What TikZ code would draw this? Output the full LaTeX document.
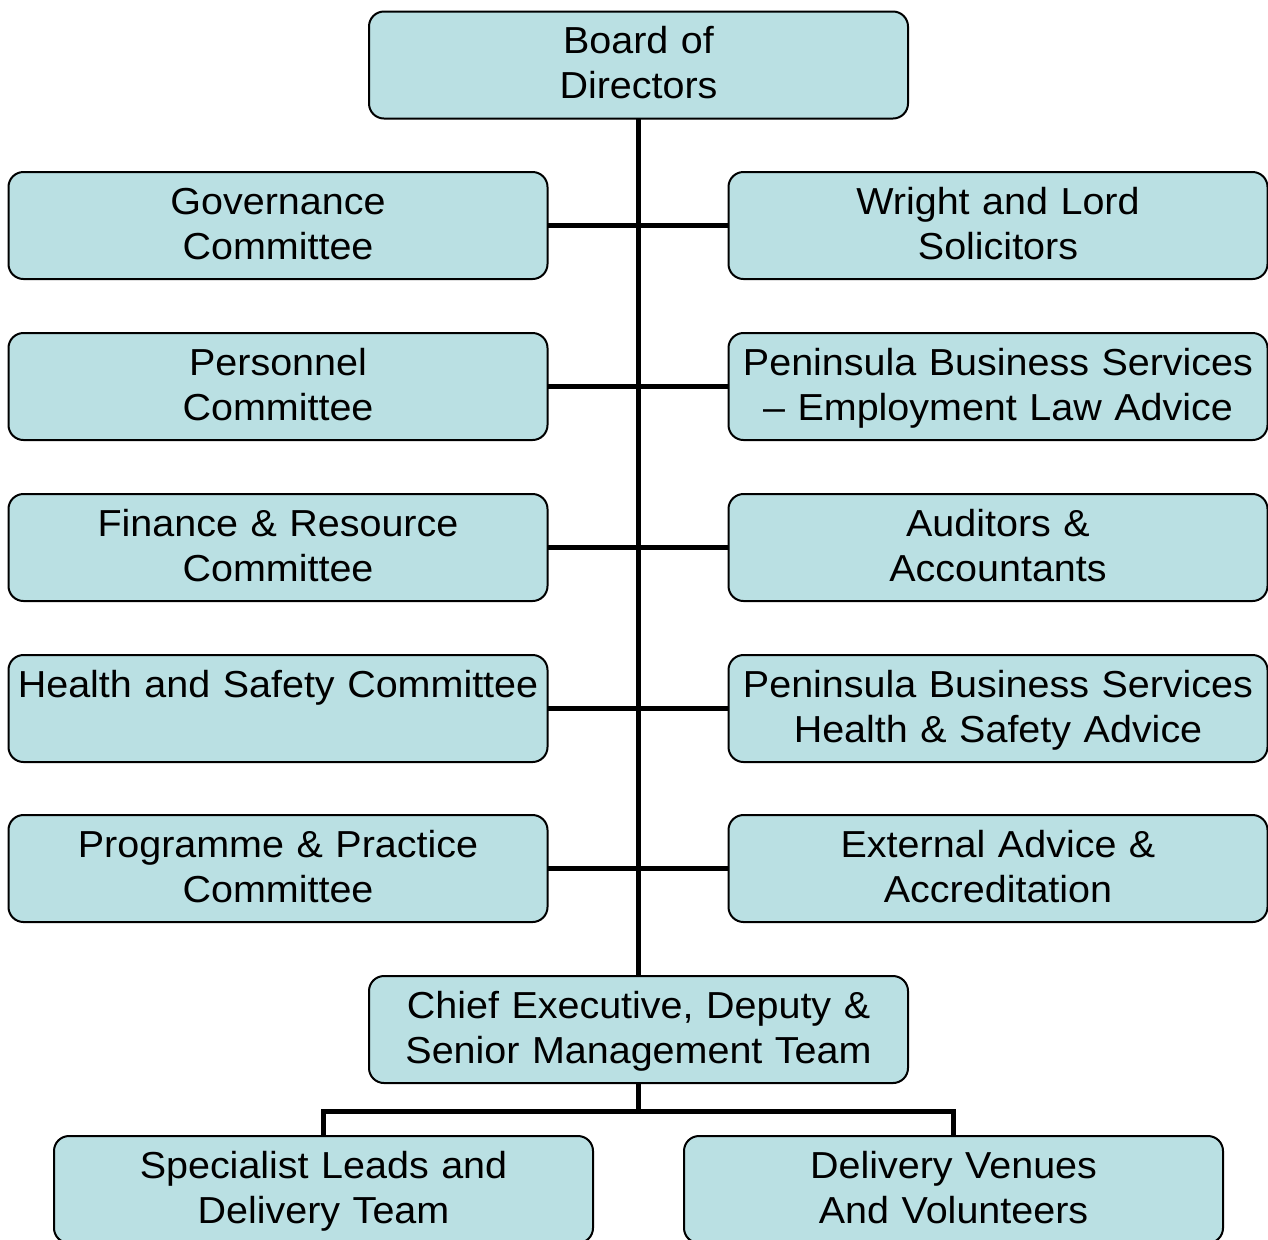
\documentclass[tikz,border=0pt]{standalone}
\usepackage{fontspec}
\setmainfont{Liberation Sans}[FakeStretch=1.05]
\begin{document}
\definecolor{boxfill}{RGB}{186,224,227}
\begin{tikzpicture}[x=0.5pt,y=-0.5pt,
  unit/.style={draw=black, line width=1pt, fill=boxfill, rounded corners=7.5pt,
    inner sep=0pt, outer sep=0pt, minimum width=269.5pt, minimum height=53.5pt},
  caption/.style={anchor=base, align=center, text width=268pt, inner sep=0pt,
    font=\fontsize{18.8}{22.5}\selectfont},
  link/.style={draw=black, line width=2.5pt}]
\clip (0,0) rectangle (1268,1239);

% boxes
\node[unit] (board) at (638.5,65) {};
\node[unit] (gov)  at (278,225.5) {};
\node[unit] (pers) at (278,386.5) {};
\node[unit] (fin)  at (278,547.5) {};
\node[unit] (hs)   at (278,708.5) {};
\node[unit] (prog) at (278,868.5) {};
\node[unit] (wl)   at (998,225.5) {};
\node[unit] (pbs)  at (998,386.5) {};
\node[unit] (aud)  at (998,547.5) {};
\node[unit] (pbh)  at (998,708.5) {};
\node[unit] (ext)  at (998,868.5) {};
\node[unit] (ceo)  at (638.5,1029.5) {};
\node[unit] (spec) at (323.5,1189.5) {};
\node[unit] (venue) at (953.5,1189.5) {};

% connectors
\draw[link] (board.south) -- (ceo.north);
\draw[link] (gov.east) -- (wl.west);
\draw[link] (pers.east) -- (pbs.west);
\draw[link] (fin.east) -- (aud.west);
\draw[link] (hs.east) -- (pbh.west);
\draw[link] (prog.east) -- (ext.west);
\draw[link] (ceo.south) -- ++(0,28) coordinate (fork);
\draw[link] (spec.north) |- (fork) -| (venue.north);

% captions
\node[caption] (tboard) at ([yshift=-21pt]board.north) {Board of\\Directors};
\node[caption] (tgov)  at ([yshift=-21pt]gov.north)  {Governance\\Committee};
\node[caption] (tpers) at ([yshift=-21pt]pers.north) {Personnel\\Committee};
\node[caption] (tfin)  at ([yshift=-21pt]fin.north)  {Finance \& Resource\\Committee};
\node[caption] (ths)   at ([yshift=-21pt]hs.north)   {Health and Safety Committee};
\node[caption] (tprog) at ([yshift=-21pt]prog.north) {Programme \& Practice\\Committee};
\node[caption] (twl)   at ([yshift=-21pt]wl.north)   {Wright and Lord\\Solicitors};
\node[caption] (tpbs)  at ([yshift=-21pt]pbs.north)  {Peninsula Business Services\\– Employment Law Advice};
\node[caption] (taud)  at ([yshift=-21pt]aud.north)  {Auditors \&\\Accountants};
\node[caption] (tpbh)  at ([yshift=-21pt]pbh.north)  {Peninsula Business Services\\Health \& Safety Advice};
\node[caption] (text)  at ([yshift=-21pt]ext.north)  {External Advice \&\\Accreditation};
\node[caption] (tceo)  at ([yshift=-21pt]ceo.north)  {Chief Executive, Deputy \&\\Senior Management Team};
\node[caption] (tspec) at ([yshift=-21pt]spec.north) {Specialist Leads and\\Delivery Team};
\node[caption] (tvenue) at ([yshift=-21pt]venue.north) {Delivery Venues\\And Volunteers};
\end{tikzpicture}
\end{document}
